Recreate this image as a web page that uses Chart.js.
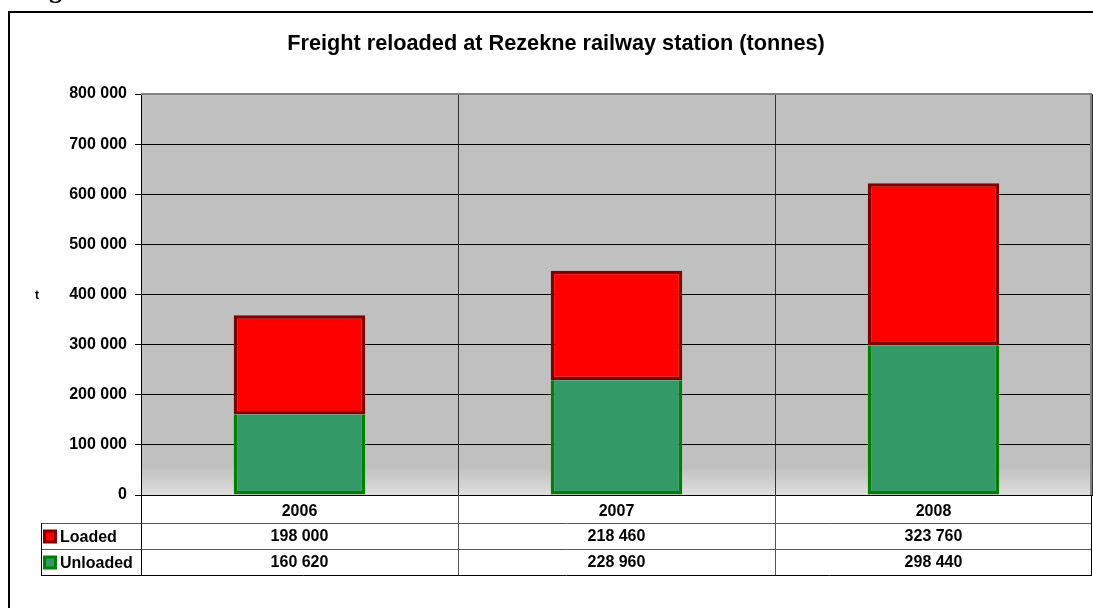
<!DOCTYPE html>
<html>
<head>
<meta charset="utf-8">
<script src="https://cdn.jsdelivr.net/npm/chart.js@4/dist/chart.umd.min.js"></script>
<style>
  body { margin: 0; background: #fff; }
  #wrap { width: 1093px; height: 608px; }
</style>
</head>
<body>
<div id="wrap"><canvas id="freightChart" width="1093" height="608"></canvas></div>
<script>
// data
const years = ['2006', '2007', '2008']
const loaded = [198000, 218460, 323760]
const unloaded = [160620, 228960, 298440]
const seriesNames = ['Loaded', 'Unloaded']

const FONT = 'Arial, "Liberation Sans", sans-serif'

function fmt(v) {
    return String(Math.round(v)).replace(/\B(?=(\d{3})+(?!\d))/g, ' ')
}

// white page, outer frame, grey plot area
const backdrop = {
    id: 'backdrop',
    beforeDraw(chart) {
        let ctx = chart.ctx
        let a = chart.chartArea
        ctx.save()
        ctx.fillStyle = '#fff'
        ctx.fillRect(0, 0, chart.width, chart.height)

        // caption above the frame, cut off by the page edge
        ctx.fillStyle = '#000'
        ctx.font = 'bold 26px "Liberation Serif", serif'
        ctx.textBaseline = 'alphabetic'
        ctx.fillText('Figure', 26, -2)

        ctx.strokeStyle = '#000'
        ctx.lineWidth = 2
        ctx.beginPath()
        ctx.moveTo(9, chart.height)
        ctx.lineTo(9, 12)
        ctx.lineTo(chart.width, 12)
        ctx.stroke()

        let g = ctx.createLinearGradient(0, a.top, 0, a.bottom)
        g.addColorStop(0, '#c0c0c0')
        g.addColorStop(0.93, '#c0c0c0')
        g.addColorStop(1, '#dedede')
        ctx.fillStyle = g
        ctx.fillRect(a.left, a.top, a.right - a.left, a.bottom - a.top)

        ctx.fillStyle = '#000'
        ctx.font = 'bold 12px ' + FONT
        ctx.textAlign = 'center'
        ctx.textBaseline = 'middle'
        ctx.fillText('t', 37, 296)
        ctx.restore()
    },
    afterDatasetsDraw(chart) {
        let ctx = chart.ctx
        let a = chart.chartArea
        ctx.save()
        ctx.strokeStyle = '#808080'
        ctx.lineWidth = 2
        ctx.beginPath()
        ctx.moveTo(a.left, a.top)
        ctx.lineTo(a.right - 1, a.top)
        ctx.lineTo(a.right - 1, a.bottom)
        ctx.stroke()
        ctx.restore()
    }
}

// data table under the plot
const dataTable = {
    id: 'dataTable',
    afterDraw(chart) {
        let ctx = chart.ctx
        let a = chart.chartArea
        let xs = chart.scales.x
        let n = years.length
        let colW = (a.right - a.left) / n
        let rowTop = [a.bottom, a.bottom + 28, a.bottom + 54]
        let bottom = a.bottom + 80
        let legendLeft = 41

        ctx.save()
        ctx.lineWidth = 1
        ctx.strokeStyle = '#555'
        ctx.beginPath()
        ctx.moveTo(legendLeft, rowTop[1] + 0.5)
        ctx.lineTo(a.right, rowTop[1] + 0.5)
        ctx.moveTo(legendLeft, rowTop[2] + 0.5)
        ctx.lineTo(a.right, rowTop[2] + 0.5)
        for (let i = 1; i < n; i++) {
            let x = Math.round(a.left + i * colW) + 0.5
            ctx.moveTo(x, a.bottom)
            ctx.lineTo(x, bottom)
        }
        ctx.stroke()

        ctx.strokeStyle = '#000'
        ctx.beginPath()
        ctx.moveTo(legendLeft, bottom + 0.5)
        ctx.lineTo(a.right, bottom + 0.5)
        ctx.moveTo(legendLeft + 0.5, rowTop[1])
        ctx.lineTo(legendLeft + 0.5, bottom)
        ctx.moveTo(a.left + 0.5, a.bottom)
        ctx.lineTo(a.left + 0.5, bottom)
        ctx.moveTo(a.right - 0.5, a.bottom)
        ctx.lineTo(a.right - 0.5, bottom)
        ctx.stroke()

        let rows = [
            { name: seriesNames[0], vals: loaded, fill: '#ff0000', edge: '#800000' },
            { name: seriesNames[1], vals: unloaded, fill: '#339966', edge: '#008000' }
        ]
        ctx.font = 'bold 16px ' + FONT
        ctx.fillStyle = '#000'
        ctx.textBaseline = 'middle'
        rows.forEach((r, k) => {
            let cy = rowTop[k + 1] + 13.5
            ctx.fillStyle = r.edge
            ctx.fillRect(43, cy - 7, 14, 14)
            ctx.fillStyle = r.fill
            ctx.fillRect(46, cy - 4, 8, 8)
            ctx.fillStyle = '#000'
            ctx.textAlign = 'left'
            ctx.fillText(r.name, 60, cy + 1)
            ctx.textAlign = 'center'
            r.vals.forEach((v, i) => {
                ctx.fillText(fmt(v), xs.getPixelForValue(i), cy)
            })
        })
        ctx.restore()
    }
}

let chartobj = document.getElementById('freightChart')
let freightChart = new Chart(chartobj, {
    type: 'bar',
    data: {
        labels: years,
        datasets: [{
            label: seriesNames[1],
            data: unloaded,
            backgroundColor: '#339966',
            borderColor: '#008000',
            borderWidth: 3.5,
            borderSkipped: 'top'
        }, {
            label: seriesNames[0],
            data: loaded,
            backgroundColor: '#ff0000',
            borderColor: '#800000',
            borderWidth: 3.5,
            borderSkipped: false
        }]
    },
    options: {
        responsive: false,
        animation: false,
        devicePixelRatio: 1,
        layout: { padding: { left: 20, right: 1, top: 0, bottom: 0 } },
        datasets: { bar: { barPercentage: 0.415, categoryPercentage: 1 } },
        plugins: {
            legend: { display: false },
            tooltip: { enabled: false },
            title: {
                display: true,
                text: 'Freight reloaded at Rezekne railway station (tonnes)',
                color: '#000',
                font: { family: FONT, size: 21.7, weight: 'bold' },
                padding: { top: 31.5, bottom: 36.5 }
            }
        },
        scales: {
            x: {
                stacked: true,
                grid: { offset: true, color: '#333', drawTicks: false },
                border: { color: '#000' },
                ticks: { color: '#000', padding: 6.5, font: { family: FONT, size: 16, weight: 'bold' } },
                afterFit(s) { s.height = 113 }
            },
            y: {
                stacked: true,
                min: 0,
                max: 800000,
                grid: { color: '#000', tickLength: 6 },
                border: { color: '#000' },
                ticks: {
                    stepSize: 100000,
                    color: '#000',
                    padding: 8,
                    font: { family: FONT, size: 16, weight: 'bold' },
                    callback: v => fmt(v)
                },
                afterFit(s) { s.width = 121 }
            }
        }
    },
    plugins: [backdrop, dataTable]
});
</script>
</body>
</html>
